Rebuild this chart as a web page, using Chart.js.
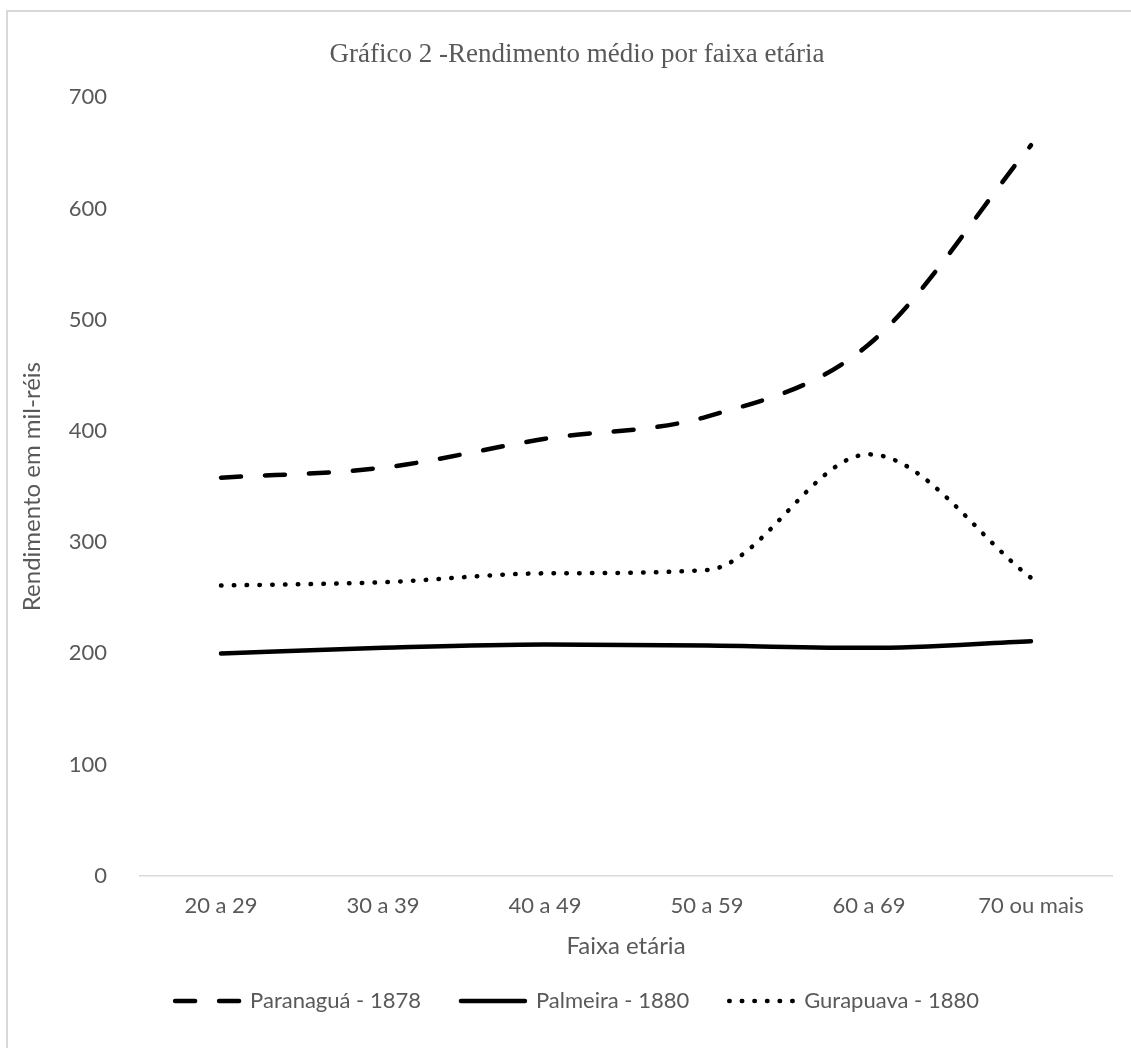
<!DOCTYPE html>
<html lang="pt">
<head>
    <meta charset="UTF-8">
    <title>Gráfico 2 - Rendimento médio por faixa etária</title>
    <script src="https://cdn.jsdelivr.net/npm/chart.js"></script>
    <style>
        html, body {
            margin: 0;
            padding: 0;
            background: #ffffff;
            overflow: hidden;
        }
        /* moldura cinza clara (só topo e esquerda aparecem no recorte) */
        .frame {
            position: absolute;
            left: 6px;
            top: 10px;
            width: 1200px;
            height: 1100px;
            border-left: 2px solid #d9d9d9;
            border-top: 2px solid #d9d9d9;
        }
        #wrap {
            position: absolute;
            left: 0;
            top: 0;
            width: 1131px;
            height: 1048px;
        }
    </style>
</head>
<body>

<div class="frame"></div>
<div id="wrap">
    <canvas id="rendimentoChart"></canvas>
</div>

<script>
  // Dados do gráfico
  const faixas = ['20 a 29', '30 a 39', '40 a 49', '50 a 59', '60 a 69', '70 ou mais'];
  const paranagua1878 = [358, 367, 393, 413, 478, 657];
  const palmeira1880  = [200, 205, 208, 207, 205, 211];
  const gurapuava1880 = [261, 264, 272, 275, 379, 268];
  const yTicks = [0, 100, 200, 300, 400, 500, 600, 700];

  const cinza = '#595959';
  const fonte = 'Lato, "Open Sans", sans-serif';

  function serie(label, data, dash, legendDash) {
      return {
          label: label,
          data: data,
          borderColor: '#000000',
          backgroundColor: '#000000',
          borderWidth: 4.5,
          borderDash: dash,
          legendDash: legendDash || dash,
          borderCapStyle: 'round',
          borderJoinStyle: 'round',
          pointRadius: 0,
          pointHoverRadius: 0,
          pointStyle: 'line',
          fill: false,
          cubicInterpolationMode: 'monotone'
      };
  }

  const ctx = document.getElementById('rendimentoChart').getContext('2d');
  new Chart(ctx, {
      type: 'line',
      data: {
          labels: faixas,
          datasets: [
              serie('Paranaguá - 1878', paranagua1878, [20, 24]),
              serie('Palmeira - 1880', palmeira1880, []),
              serie('Gurapuava - 1880', gurapuava1880, [0.5, 12.3], [0.5, 12.1])
          ]
      },
      options: {
          responsive: true,
          maintainAspectRatio: false,
          animation: false,
          layout: {
              padding: { left: 42, right: 19, top: 0, bottom: 26 }
          },
          scales: {
              x: {
                  offset: true,
                  grid: { display: false, drawTicks: false },
                  border: { display: true, color: '#d9d9d9', width: 1.5 },
                  ticks: {
                      color: cinza,
                      padding: 17,
                      font: { family: fonte, size: 22 }
                  },
                  title: {
                      display: true,
                      text: 'Faixa etária',
                      color: cinza,
                      padding: { top: -4, bottom: -11 },
                      font: { family: fonte, size: 24 }
                  }
              },
              y: {
                  min: 0,
                  max: 700,
                  afterBuildTicks: (scale) => {
                      scale.ticks = yTicks.map(v => ({ value: v }));
                  },
                  afterFit: (scale) => { scale.width = 98; },
                  grid: { display: false, drawTicks: false },
                  border: { display: false },
                  ticks: {
                      color: cinza,
                      padding: 33,
                      font: { family: fonte, size: 22 }
                  },
                  title: {
                      display: true,
                      text: 'Rendimento em mil-réis',
                      color: cinza,
                      padding: { top: -24, bottom: 0 },
                      font: { family: fonte, size: 24 }
                  }
              }
          },
          plugins: {
              title: {
                  display: true,
                  text: 'Gráfico 2 -Rendimento médio por faixa etária',
                  color: cinza,
                  padding: { top: 39, bottom: 26 },
                  font: { family: '"Liberation Serif", "Times New Roman", serif', size: 27, weight: 'normal' }
              },
              legend: {
                  position: 'bottom',
                  labels: {
                      color: cinza,
                      usePointStyle: true,
                      pointStyle: 'line',
                      pointStyleWidth: 64,
                      padding: 40,
                      font: { family: fonte, size: 22 },
                      // o estilo de ponto não leva o tracejado da série, então copiamos
                      generateLabels: (chart) => {
                          const items = Chart.defaults.plugins.legend.labels.generateLabels(chart);
                          items.forEach((item, i) => {
                              const ds = chart.data.datasets[i];
                              item.lineDash = ds.legendDash;
                              item.lineCap = 'round';
                              item.lineWidth = ds.borderWidth;
                              item.strokeStyle = ds.borderColor;
                              item.pointStyle = 'line';
                          });
                          return items;
                      }
                  }
              },
              tooltip: { enabled: false }
          }
      }
  });
</script>

</body>
</html>
